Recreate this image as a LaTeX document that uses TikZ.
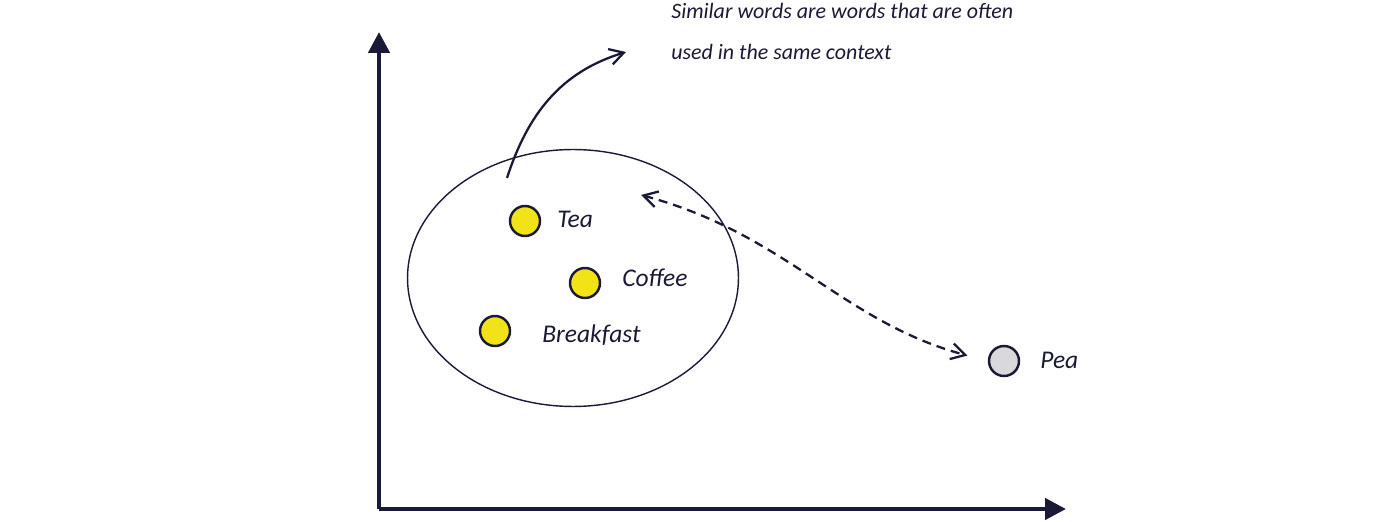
\documentclass[tikz,border=0pt]{standalone}
\usepackage{fontspec}
\setmainfont{Carlito}
\usetikzlibrary{arrows.meta,shapes.geometric}
\definecolor{ink}{HTML}{1B1A36}
\definecolor{wordfill}{HTML}{F2E318}
\definecolor{peafill}{HTML}{D9D9DC}

\begin{document}
\begin{tikzpicture}[x=0.02cm,y=0.02cm,
		axis/.style={draw=ink,line width=2.6pt,-{Triangle[length=0.42cm,width=0.42cm]}},
		dot/.style={draw=ink,line width=1.4pt,fill=wordfill,circle,inner sep=0pt,minimum size=0.6cm},
		word/.style={text=ink,font=\fontsize{14.5}{16}\selectfont\itshape,inner sep=0pt,anchor=base west},
		note/.style={text=ink,font=\fontsize{12.5}{14}\selectfont\itshape,inner sep=0pt,anchor=base west},
		barb/.tip={Straight Barb[length=0.28cm,width=0.32cm]}
		]
		\useasboundingbox (0,0) rectangle (1400,521);
		% axes
		\coordinate (O) at (379,12);
		\coordinate (ytop) at (379,489);
		\coordinate (xend) at (1066,12);
		\draw[axis] (O) -- (ytop);
		\draw[axis] (O) -- (xend);
		
		\node[ellipse,draw=ink,line width=0.8pt,minimum width=6.62cm,minimum height=5.14cm] (cluster) at (573,243) {};
		\foreach \w/\txt/\x/\y/\lx/\ly in {tea/Tea/525/300/557/293, coffee/Coffee/585/238/622/234, breakfast/Breakfast/495/190/542/178} {
			\node[dot] (\w) at (\x,\y) {};
			\node[word] (\w-label) at (\lx,\ly) {\txt};
		}
		\node[dot,fill=peafill] (pea) at (1004,160) {};
		\node[word] (pea-label) at (1040,153) {Pea};
		
		\node[note] (note1) at (671,502) {Similar words are words that are often};
		\node[note] (note2) at (671,461) {used in the same context};
		
		\coordinate (rim) at (507,343);
		\coordinate (tip) at (626,469);
		\draw[ink,line width=1.3pt,-barb] (rim) to[out=72,in=197] (tip);
		
		\coordinate (near) at (641,326);
		\draw[ink,line width=1.3pt,dash pattern=on 0.18cm off 0.12cm,barb-barb,shorten >=0.42cm] (near) to[out=-15,in=165] (pea.west);
	\end{tikzpicture}
\end{document}
